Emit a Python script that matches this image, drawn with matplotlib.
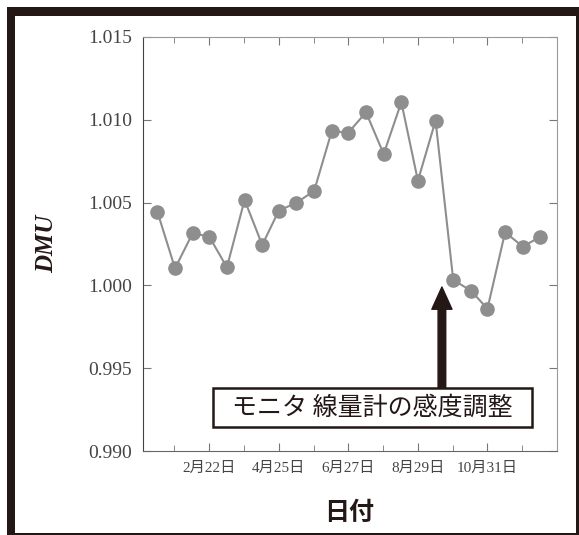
import matplotlib
matplotlib.use("Agg")
import matplotlib.pyplot as plt
import matplotlib.dates as mdates
from matplotlib.patches import Rectangle
import pandas as pd

# measurement dates (2012, roughly every 16 days)
dates = ["2012-01-06", "2012-01-22", "2012-02-07", "2012-02-22", "2012-03-09",
         "2012-03-25", "2012-04-10", "2012-04-25", "2012-05-11", "2012-05-27",
         "2012-06-12", "2012-06-27", "2012-07-13", "2012-07-29", "2012-08-14",
         "2012-08-29", "2012-09-14", "2012-09-30", "2012-10-16", "2012-10-31",
         "2012-11-16", "2012-12-02", "2012-12-18"]
dmu = [1.00445, 1.00103, 1.00315, 1.00294, 1.00109, 1.00516, 1.00244, 1.00451,
       1.00499, 1.00570, 1.00932, 1.00922, 1.01045, 1.00793, 1.01106, 1.00632,
       1.00995, 1.00033, 0.99968, 0.99859, 1.00321, 1.00234, 1.00294]

major_dates = ["2012-02-22", "2012-04-25", "2012-06-27", "2012-08-29", "2012-10-31"]
major_labels = ["2月22日", "4月25日", "6月27日", "8月29日", "10月31日"]
y_ticks = [0.990, 0.995, 1.000, 1.005, 1.010, 1.015]
y_labels = ["0.990", "0.995", "1.000", "1.005", "1.010", "1.015"]
x_range = ["2011-12-24", "2013-01-02"]

note = "モニタ 線量計の感度調整"

DARK = "#231815"
GRAY = "#8e8e8e"
W, H = 579, 535

x = mdates.date2num(pd.to_datetime(dates))
majors = mdates.date2num(pd.to_datetime(major_dates))
step = majors[1] - majors[0]
minors = [m - step / 2 for m in majors] + [majors[-1] + step / 2]

fig = plt.figure(figsize=(W / 100, H / 100), dpi=100)
ax = fig.add_axes([0.247, 0.157, 0.715, 0.774])

ax.plot(x, dmu, color=GRAY, lw=1.5, marker="o", ms=9.5, mfc=GRAY, mec=GRAY)

ax.set_xlim(*mdates.date2num(pd.to_datetime(x_range)))
ax.set_ylim(0.990, 1.015)
ax.set_xticks(majors)
ax.set_xticklabels(major_labels, family=["Liberation Serif", "Noto Sans CJK JP"],
                   fontsize=11, color="#444444")
ax.set_xticks(minors, minor=True)
ax.set_yticks(y_ticks)
ax.set_yticklabels(y_labels, family="Liberation Serif", fontsize=14, color="#444444")

ax.tick_params(which="both", direction="in", top=True, right=True, color="#777777")
ax.tick_params(axis="y", length=6, pad=8)
ax.tick_params(axis="x", which="major", length=6, pad=8)
ax.tick_params(axis="x", which="minor", length=4)

ax.spines["left"].set_color("#444444")
ax.spines["bottom"].set_color("#666666")
ax.spines["top"].set_color("#999999")
ax.spines["right"].set_color("#999999")

ax.set_ylabel("DMU", family="Liberation Serif", fontsize=18, fontweight="bold",
              style="italic", color=DARK)
ax.yaxis.set_label_coords(-0.205, 0.5)
ax.set_xlabel("日付", family="Noto Sans CJK JP", fontsize=18, fontweight="bold",
              color=DARK)
ax.xaxis.set_label_coords(0.497, -0.12)

# arrow and annotation box
ax.annotate("", xy=(0.722, 0.396), xytext=(0.722, 0.152),
            xycoords="axes fraction", textcoords="axes fraction",
            arrowprops=dict(facecolor=DARK, edgecolor=DARK, width=5.5,
                            headwidth=14.5, headlength=16, shrink=0))
ax.add_patch(Rectangle((0.169, 0.058), 0.771, 0.094, transform=ax.transAxes,
                       facecolor="white", edgecolor=DARK, lw=1.8, zorder=5))
ax.text(0.554, 0.105, note, transform=ax.transAxes, ha="center", va="center",
        family="Noto Sans CJK JP", fontsize=18, color=DARK, zorder=6)

# thick frame around the figure, partly cut off at right and bottom
# (x0, y0 from top, width, height) in pixels
bands = [(7, 7, W - 7, 9), (7, 7, 8, H - 7), (576, 7, 3, H - 7), (7, 533, W - 7, 2)]
for bx, by, bw, bh in bands:
    fig.patches.append(Rectangle((bx / W, 1 - (by + bh) / H), bw / W, bh / H,
                                 transform=fig.transFigure, facecolor=DARK,
                                 edgecolor="none"))

fig.savefig("out.png", dpi=100)
